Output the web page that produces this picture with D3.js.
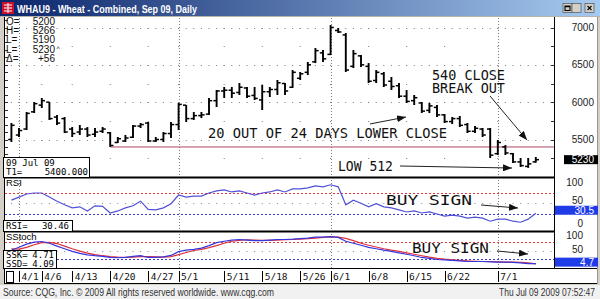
<!DOCTYPE html>
<html>
<head>
<meta charset="utf-8">
<script src="https://cdn.jsdelivr.net/npm/d3@7"></script>
<style>
  body { margin: 0; background: #fff; }
  svg { display: block; }
</style>
</head>
<body>
<div id="chart"></div>
<script>
// trading days on the chart (Mar 31 - Jul 9 2009)
const dates = ["3/31","4/1","4/2","4/3","4/6","4/7","4/8","4/9","4/13","4/14","4/15","4/16","4/17",
  "4/20","4/21","4/22","4/23","4/24","4/27","4/28","4/29","4/30","5/1","5/4","5/5","5/6","5/7","5/8",
  "5/11","5/12","5/13","5/14","5/15","5/18","5/19","5/20","5/21","5/22","5/26","5/27","5/28","5/29",
  "6/1","6/2","6/3","6/4","6/5","6/8","6/9","6/10","6/11","6/12","6/15","6/16","6/17","6/18","6/19",
  "6/22","6/23","6/24","6/25","6/26","6/29","6/30","7/1","7/2","7/6","7/7","7/8","7/9"];

const opens = [5500,5560,5640,5870,5960,6000,5800,5780,5640,5600, 5640,5570,5610,5590,5460,5480,5530,5680,5720,5480,
  5500,5580,5700,5960,5780,5820,5840,6020,6150,6160, 6130,6190,6090,6030,6140,6170,6250,6200,6320,6400,
  6540,6660,6640,6960,6900,6480,6620,6480,6290,6380, 6280,6220,6080,6020,5990,5890,5930,5830,5740,5780,
  5700,5610,5640,5640,5310,5400,5310,5200,5140,5200];
const highs = [5721,5654,5868,6002,6056,6002,5828,5801,5667,5694, 5667,5654,5667,5600,5533,5560,5694,5721,5734,5533,
  5600,5734,5989,5962,5868,5868,6056,6163,6203,6203, 6256,6203,6203,6230,6203,6297,6256,6430,6404,6538,
  6725,6698,7033,6993,6926,6698,6631,6524,6430,6404, 6337,6256,6163,6096,6002,5989,5962,5841,5801,5815,
  5721,5680,5654,5654,5493,5426,5319,5252,5252,5266];
const lows = [5467,5533,5627,5855,5922,5761,5694,5587,5533,5560, 5533,5533,5587,5400,5453,5467,5520,5654,5467,5467,
  5467,5520,5627,5734,5761,5788,5828,5935,6056,6056, 6096,6056,6029,5895,6069,6096,6096,6190,6297,6364,
  6524,6538,6631,6926,6404,6457,6471,6256,6256,6203, 6163,6056,5989,5962,5855,5855,5801,5721,5707,5667,
  5587,5587,5533,5252,5292,5292,5185,5132,5120,5190];
const closes = [5690,5620,5850,5980,6020,5780,5720,5600,5580,5640, 5560,5600,5640,5420,5510,5520,5680,5700,5480,5500,
  5580,5700,5970,5780,5820,5830,6020,6150,6160,6120, 6200,6080,6050,6140,6170,6260,6150,6400,6380,6500,
  6690,6580,7000,6940,6430,6650,6500,6280,6400,6230, 6210,6080,6010,6060,5880,5950,5830,5740,5780,5690,
  5610,5650,5560,5290,5460,5320,5200,5150,5174,5230];

const rsi = [56,62,68,70,70,62,54,47,41,43, 35,45,44,31,35,41,45,54,38,37,
  41,49,66,62,64,64,70,74,76,72, 74,70,66,70,72,76,72,78,78,80,
  84,82,86,82,47,56,50,43,49,43, 41,37,33,35,31,33,29,25,27,25,
  21,23,21,15,19,19,15,13,19,30.46];
const ssk = [51,61,72,79,81,75,65,56,47,40, 35,32,30,26,25,26,30,32,26,26,
  28,33,46,51,54,58,67,77,82,86, 88,86,84,84,86,88,88,89,91,93,
  96,96,98,95,82,75,68,61,56,51, 47,42,37,32,26,23,19,18,16,14,
  12,12,12,11,10,10,9,7,5,4.71];
const ssd = [56,55,61,70,77,78,74,65,56,48, 41,36,32,29,27,26,27,29,29,28,
  27,29,36,43,50,54,60,67,75,82, 85,87,86,85,85,86,87,88,89,91,
  93,95,97,96,92,84,75,68,62,56, 51,47,42,37,32,27,23,20,18,16,
  14,13,12,12,11,10,10,9,7,4.09];

const dateTicks = ["4/1","4/6","4/13","4/20","4/27","5/1","5/11","5/18","5/26","6/1","6/8","6/15","6/22","7/1"];
const monthLines = ["4/1","5/1","6/1","7/1"];
const priceTicks = [7000, 6500, 6000, 5500];
const priceMinor = [6750, 6250, 5750, 5250];
const rsiTicks = [100, 50, 0];
const stochTicks = [100, 50];

const lastPrice = 5230, lastRsi = "30.5", lastStoch = "4.7";
const targetPrice = 5400;
const infoLabels = ["O=", "H=", "L=", "L=", "\u0394="];
const infoValues = ["5200", "5266", "5190", "5230", "+56"];

const W = 600, H = 299;
const left = 4, right = 554;
const mono = "'DejaVu Sans Mono', monospace";

const svg = d3.select("#chart").append("svg")
    .attr("width", W)
    .attr("height", H)
    .style("font-family", "'Liberation Sans', Arial, sans-serif");

// scales
const x = d3.scalePoint().domain(dates).range([11.4, 535.8]);
const step = x.step();
const xi = i => x(dates[0]) + i * step;
const yP = d3.scaleLinear().domain([5500, 7000]).range([139.5, 27.5]);
const yR = d3.scaleLinear().domain([0, 100]).range([228.9, 177.6]);
const yS = d3.scaleLinear().domain([0, 100]).range([265, 236]);

const defs = svg.append("defs");
const grad = defs.append("linearGradient").attr("id", "titleGrad");
grad.append("stop").attr("offset", "0%").attr("stop-color", "#0a246a");
grad.append("stop").attr("offset", "100%").attr("stop-color", "#a6caf0");

function clip(id, y0, y1) {
    defs.append("clipPath").attr("id", id)
        .append("rect").attr("x", left + 1).attr("y", y0).attr("width", right - left - 1).attr("height", y1 - y0);
}
clip("clipP", 17, 177);
clip("clipR", 178, 231);
clip("clipS", 232, 268);

defs.append("marker")
    .attr("id", "arrow")
    .attr("markerUnits", "userSpaceOnUse")
    .attr("markerWidth", 9).attr("markerHeight", 7)
    .attr("refX", 9).attr("refY", 3.5)
    .attr("orient", "auto")
    .append("path").attr("d", "M0,0 L9,3.5 L0,7 z").attr("fill", "#111");

// window background
svg.append("rect").attr("width", W).attr("height", H).attr("fill", "#d4d0c8");
svg.append("rect").attr("x", left).attr("y", 17).attr("width", W - left - 2).attr("height", 267).attr("fill", "#fff");
svg.append("rect").attr("x", 0).attr("y", 285).attr("width", W).attr("height", 14).attr("fill", "#f1f1f1");

// title bar
svg.append("rect").attr("width", W).attr("height", 16).attr("fill", "url(#titleGrad)");
const icon = svg.append("g");
icon.append("rect").attr("x", 2).attr("y", 2).attr("width", 12).attr("height", 12).attr("fill", "#c8102e");
icon.append("path").attr("d", "M4,5 H12 M4,8 H12 M4,11 H12 M8,3 V13").attr("stroke", "#fff").attr("stroke-width", 1);
svg.append("text")
    .attr("x", 17).attr("y", 12.5)
    .attr("fill", "#fff")
    .style("font-size", "11px")
    .style("font-weight", "bold")
    .attr("textLength", 180).attr("lengthAdjust", "spacingAndGlyphs")
    .text("WHAU9 - Wheat - Combined, Sep 09, Daily");

[563, 572, 585].forEach(function (bx, k) {
    svg.append("rect").attr("x", bx).attr("y", 3.5).attr("width", 9).attr("height", 9)
        .attr("fill", "#d4d0c8").attr("stroke", "#404040").attr("stroke-width", 0.6);
    var glyph = ["M565,10.5 H569", "M565,6 H570 V10.5 H565 Z M565,6.8 H570", "M587.5,6 L591.5,10 M591.5,6 L587.5,10"][k];
    svg.append("path").attr("d", glyph).attr("fill", "none").attr("stroke", "#000").attr("stroke-width", 1.1);
});
svg.append("line").attr("x1", 0).attr("x2", W).attr("y1", 16.5).attr("y2", 16.5).attr("stroke", "#b8b4ac");

// ---- grid ----
const grid = svg.append("g");
const x0 = x(dates[0]) - 0.5, x1 = right;

priceTicks.forEach(function (v) {
    grid.append("line")
        .attr("x1", x0).attr("x2", x1)
        .attr("y1", Math.round(yP(v)) + 0.5).attr("y2", Math.round(yP(v)) + 0.5)
        .attr("stroke", "#7a7a7a")
        .attr("stroke-dasharray", "1," + (step - 1).toFixed(2));
});
priceMinor.concat(priceTicks).forEach(function (v) {
    dateTicks.forEach(function (d) {
        grid.append("rect").attr("x", x(d) - 0.5).attr("y", Math.round(yP(v)))
            .attr("width", 1).attr("height", 1).attr("fill", "#7a7a7a");
    });
});
[50].forEach(function (v) {
    grid.append("line").attr("x1", x0).attr("x2", x1)
        .attr("y1", Math.round(yR(v)) + 0.5).attr("y2", Math.round(yR(v)) + 0.5)
        .attr("stroke", "#8a8a8a").attr("stroke-dasharray", "1," + (step - 1).toFixed(2));
    grid.append("line").attr("x1", x0).attr("x2", x1)
        .attr("y1", Math.round(yS(v)) + 0.5).attr("y2", Math.round(yS(v)) + 0.5)
        .attr("stroke", "#8a8a8a").attr("stroke-dasharray", "1," + (step - 1).toFixed(2));
});
// overbought / oversold guides
[[yR, 70, "#e03c3c"], [yR, 30, "#3c3cc8"], [yS, 80, "#e03c3c"], [yS, 20, "#3c3cc8"]].forEach(function (g) {
    grid.append("line")
        .attr("x1", left + 1).attr("x2", right)
        .attr("y1", Math.round(g[0](g[1])) + 0.5).attr("y2", Math.round(g[0](g[1])) + 0.5)
        .attr("stroke", g[2]).attr("stroke-dasharray", "2,2");
});
monthLines.forEach(function (d) {
    grid.append("line")
        .attr("x1", Math.round(x(d)) + 0.5).attr("x2", Math.round(x(d)) + 0.5)
        .attr("y1", 18).attr("y2", 268)
        .attr("stroke", "#7a7a7a").attr("stroke-dasharray", "1,2");
});

// edge ticks on price panel
d3.range(5000, 7101, 100).forEach(function (v) {
    if (yP(v) < 19 || yP(v) > 176) return;
    grid.append("line").attr("x1", left + 1).attr("x2", left + 4)
        .attr("y1", Math.round(yP(v)) + 0.5).attr("y2", Math.round(yP(v)) + 0.5).attr("stroke", "#333");
});
d3.range(5000, 7101, 250).forEach(function (v) {
    if (yP(v) < 19 || yP(v) > 176) return;
    grid.append("line").attr("x1", right - 3).attr("x2", right)
        .attr("y1", Math.round(yP(v)) + 0.5).attr("y2", Math.round(yP(v)) + 0.5).attr("stroke", "#333");
});

// target line T1
svg.append("line")
    .attr("x1", x("4/20")).attr("x2", right)
    .attr("y1", yP(targetPrice)).attr("y2", yP(targetPrice))
    .attr("stroke", "#b04a62").attr("stroke-width", 1);

// ---- OHLC bars ----
const rows = dates.map(function (d, i) {
    return { date: d, o: opens[i], h: highs[i], l: lows[i], c: closes[i] };
});
const bars = svg.append("g").attr("clip-path", "url(#clipP)")
    .selectAll(".bar").data(rows).enter().append("g").attr("class", "bar");
bars.append("line")
    .attr("x1", d => x(d.date)).attr("x2", d => x(d.date))
    .attr("y1", d => yP(d.h)).attr("y2", d => yP(d.l))
    .attr("stroke", "#000").attr("stroke-width", 1.9);
bars.append("line")
    .attr("x1", d => x(d.date) - 3.2).attr("x2", d => x(d.date))
    .attr("y1", d => yP(d.o)).attr("y2", d => yP(d.o))
    .attr("stroke", "#000").attr("stroke-width", 1.5);
bars.append("line")
    .attr("x1", d => x(d.date)).attr("x2", d => x(d.date) + 3.2)
    .attr("y1", d => yP(d.c)).attr("y2", d => yP(d.c))
    .attr("stroke", "#000").attr("stroke-width", 1.5);

// ---- indicators ----
function series(values, yScale) {
    return d3.line().x((v, i) => x(dates[i])).y(v => yScale(v))(values);
}
svg.append("path").attr("clip-path", "url(#clipR)")
    .attr("d", series(rsi, yR)).attr("fill", "none")
    .attr("stroke", "#5050d8").attr("stroke-width", 1.2);
svg.append("path").attr("clip-path", "url(#clipS)")
    .attr("d", series(ssd, yS)).attr("fill", "none")
    .attr("stroke", "#e0303a").attr("stroke-width", 1.2);
svg.append("path").attr("clip-path", "url(#clipS)")
    .attr("d", series(ssk, yS)).attr("fill", "none")
    .attr("stroke", "#3636e0").attr("stroke-width", 1.2);

// ---- frame ----
const frame = svg.append("g").attr("stroke", "#000").attr("fill", "none");
frame.append("line").attr("x1", left + 0.5).attr("x2", left + 0.5).attr("y1", 17).attr("y2", 284);
frame.append("line").attr("x1", right + 0.5).attr("x2", right + 0.5).attr("y1", 17).attr("y2", 268);
frame.append("line").attr("x1", left).attr("x2", right + 1).attr("y1", 177.5).attr("y2", 177.5).attr("stroke-width", 2);
frame.append("line").attr("x1", left).attr("x2", right + 1).attr("y1", 231.5).attr("y2", 231.5).attr("stroke-width", 2);
frame.append("line").attr("x1", left).attr("x2", 598).attr("y1", 268.5).attr("y2", 268.5);
frame.append("line").attr("x1", left).attr("x2", 598).attr("y1", 283.5).attr("y2", 283.5);
frame.append("line").attr("x1", 597.5).attr("x2", 597.5).attr("y1", 17).attr("y2", 284).attr("stroke", "#9a968e");

// ---- right axis labels ----
const axisR = svg.append("g").style("font-size", "10px").attr("fill", "#222").attr("text-anchor", "end");
priceTicks.forEach(function (v) {
    axisR.append("text").attr("x", 594).attr("y", yP(v) + 3.5).text(v);
});
rsiTicks.forEach(function (v) {
    axisR.append("text").attr("x", 583).attr("y", Math.min(Math.max(yR(v) - 3, 182), 223) + 3.5).text(v);
});
stochTicks.forEach(function (v) {
    axisR.append("text").attr("x", 583).attr("y", Math.max(yS(v) - 1.5, 235) + 3.5).text(v);
});
function marker(yv, w, fill, label) {
    svg.append("rect").attr("x", 598 - w).attr("y", yv - 4.5).attr("width", w).attr("height", 9).attr("fill", fill);
    svg.append("text").attr("x", 594).attr("y", yv + 3.5).attr("text-anchor", "end")
        .attr("fill", "#fff").style("font-size", "10px").text(label);
}
marker(yP(lastPrice), 34, "#000", lastPrice);
marker(yR(+lastRsi) - 3, 43, "#1f3ce8", lastRsi);
marker(yS(+lastStoch) - 1.5, 43, "#1f3ce8", lastStoch);

// ---- date axis ----
const axisX = svg.append("g");
dateTicks.forEach(function (d) {
    axisX.append("line").attr("x1", Math.round(x(d)) + 0.5).attr("x2", Math.round(x(d)) + 0.5)
        .attr("y1", 271).attr("y2", 282).attr("stroke", "#000");
    axisX.append("text").attr("x", x(d) + 2.5).attr("y", 280)
        .style("font-family", mono).style("font-size", "9.5px").attr("fill", "#111").text(d);
});
axisX.append("rect").attr("x", 6.5).attr("y", 271.5).attr("width", 7).attr("height", 11)
    .attr("fill", "#fff").attr("stroke", "#000");

// ---- info texts ----
const info = svg.append("g").style("font-size", "10px").attr("fill", "#111");
infoLabels.forEach(function (lab, k) {
    info.append("text").attr("x", 6).attr("y", 25 + k * 9.2).text(lab);
    info.append("text").attr("x", 55).attr("y", 25 + k * 9.2).attr("text-anchor", "end").text(infoValues[k]);
});
info.append("text").attr("x", 56.5).attr("y", 51).style("font-size", "7px").text("^");

function infoBox(x0b, y0b, w, h) {
    svg.append("rect").attr("x", x0b + 0.5).attr("y", y0b + 0.5).attr("width", w).attr("height", h)
        .attr("fill", "#fff").attr("stroke", "#000");
}
infoBox(3, 157, 86, 20);
svg.append("text").attr("x", 6).attr("y", 165.5).style("font-family", mono).style("font-size", "9px").text("09 Jul 09");
svg.append("text").attr("x", 6).attr("y", 175).style("font-family", mono).style("font-size", "9px").text("T1=");
svg.append("text").attr("x", 88).attr("y", 175).attr("text-anchor", "end").style("font-family", mono)
    .style("font-size", "9px").text(d3.format(".3f")(targetPrice));

svg.append("text").attr("x", 6).attr("y", 185.5).style("font-size", "9.5px").text("RSI");
infoBox(3, 220, 69, 11);
svg.append("text").attr("x", 6).attr("y", 229).style("font-family", mono).style("font-size", "9px").text("RSI=");
svg.append("text").attr("x", 69).attr("y", 229).attr("text-anchor", "end").style("font-family", mono)
    .style("font-size", "9px").text(rsi[rsi.length - 1].toFixed(2));

svg.append("text").attr("x", 6).attr("y", 239.5).style("font-size", "9.5px").text("SStoch");
infoBox(3, 250, 53, 18);
[["SSK=", ssk], ["SSD=", ssd]].forEach(function (s, k) {
    svg.append("text").attr("x", 6).attr("y", 258 + k * 8.5).style("font-family", mono).style("font-size", "9px").text(s[0]);
    svg.append("text").attr("x", 54).attr("y", 258 + k * 8.5).attr("text-anchor", "end").style("font-family", mono)
        .style("font-size", "9px").text(s[1][s[1].length - 1].toFixed(2));
});

// ---- annotations (placed in data space) ----
const notes = [
    { text: "20 OUT OF 24 DAYS LOWER CLOSE", i: 25.87, v: 5520, y: yP, w: 239 },
    { text: "540 CLOSE", i: 55.34, v: 6297, y: yP, w: 73 },
    { text: "BREAK OUT", i: 55.34, v: 6123, y: yP, w: 73 },
    { text: "LOW 512", i: 42.97, v: 5078, y: yP, w: 55 },
    { text: "BUY SIGN", i: 49.3, v: 46.6, y: yR, w: 86 },
    { text: "BUY SIGN", i: 52.7, v: 41.4, y: yS, w: 77 }
];
notes.forEach(function (n) {
    svg.append("text")
        .attr("x", xi(n.i)).attr("y", n.y(n.v))
        .style("font-family", mono).style("font-size", "13.5px").attr("fill", "#111")
        .attr("textLength", n.w).attr("lengthAdjust", "spacingAndGlyphs")
        .text(n.text);
});
const arrows = [
    { i0: 47.18, v0: 5708, i1: 51.92, v1: 5801, y: yP },
    { i0: 62.97, v0: 6083, i1: 67.84, v1: 5493, y: yP },
    { i0: 51.13, v0: 5145, i1: 65.87, v1: 5118, y: yP },
    { i0: 61.79, v0: 46.6, i1: 66.66, v1: 40.7, y: yR },
    { i0: 63.89, v0: 48.3, i1: 67.97, v1: 37.9, y: yS }
];
arrows.forEach(function (a) {
    svg.append("line")
        .attr("x1", xi(a.i0)).attr("y1", a.y(a.v0))
        .attr("x2", xi(a.i1)).attr("y2", a.y(a.v1))
        .attr("stroke", "#222").attr("stroke-width", 1)
        .attr("marker-end", "url(#arrow)");
});

// ---- footer ----
svg.append("text").attr("x", 3).attr("y", 295.5).attr("fill", "#333").style("font-size", "10.5px")
    .attr("textLength", 271).attr("lengthAdjust", "spacingAndGlyphs")
    .text("Source: CQG, Inc. \u00a9 2009 All rights reserved worldwide. www.cqg.com");
svg.append("text").attr("x", 499).attr("y", 295.5).attr("fill", "#333").style("font-size", "10.5px")
    .attr("textLength", 96).attr("lengthAdjust", "spacingAndGlyphs")
    .text("Thu Jul 09 2009 07:52:47");
</script>
</body>
</html>
